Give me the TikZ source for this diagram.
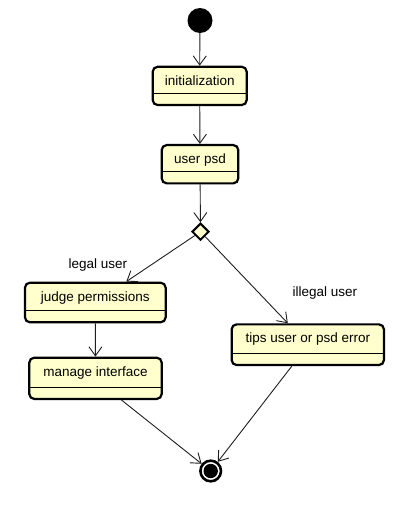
\documentclass[tikz,border=0pt]{standalone}
\usepackage{fontspec}
\setmainfont{Liberation Sans}
\usetikzlibrary{arrows.meta,shapes.geometric}
\definecolor{statefill}{RGB}{255,255,206}
\definecolor{linecol}{RGB}{30,30,30}
\tikzset{
  statebox/.style={rectangle, rounded corners=5pt, draw=black, line width=2.2pt,
    fill=statefill, inner sep=0pt,
    path picture={\draw[line width=0.8pt,black]
      ([yshift=12pt]path picture bounding box.south west) --
      ([yshift=12pt]path picture bounding box.south east);}},
  statetext/.style={anchor=base, inner sep=0pt, font=\fontsize{13.5}{16}\selectfont},
  edgetext/.style={inner sep=0pt, font=\fontsize{13.5}{16}\selectfont},
  startstate/.style={circle, fill=black, inner sep=0pt, minimum size=25pt},
  decision/.style={diamond, draw=black, line width=2pt, fill=statefill,
    inner sep=0pt, minimum width=17pt, minimum height=17pt},
  endstate/.style={circle, draw=black, line width=2.6pt, fill=white, inner sep=0pt,
    minimum size=20.6pt,
    path picture={\fill[black] (path picture bounding box.center) circle[radius=7.2pt];}},
  conn/.style={draw=linecol, line width=0.9pt,
    -{Straight Barb[length=9pt, width=13pt, line width=0.9pt]}},
}
\begin{document}
\begin{tikzpicture}[x=1pt, y=-1pt]
\useasboundingbox (0,0) rectangle (414,512);

\node[startstate] (start) at (200,20.5) {};

\node[statebox, minimum width=94pt, minimum height=38.3pt] (init) at (199.7,85.9) {};
\node[statetext] (initT) at ([yshift=-19.5pt]init.north) {initialization};

\node[statebox, minimum width=76.6pt, minimum height=38.3pt] (psd) at (200,164.2) {};
\node[statetext] (psdT) at ([yshift=-19.5pt]psd.north) {user psd};

\node[decision] (dec) at (200.5,231.7) {};

\node[statebox, minimum width=140.7pt, minimum height=39.6pt] (judge) at (95.3,302.5) {};
\node[statetext] (judgeT) at ([yshift=-19.5pt]judge.north) {judge permissions};

\node[statebox, minimum width=132.4pt, minimum height=41.3pt] (manage) at (95.5,378.3) {};
\node[statetext] (manageT) at ([yshift=-19.5pt]manage.north) {manage interface};

\node[statebox, minimum width=152.3pt, minimum height=40.7pt] (tips) at (307.8,344.7) {};
\node[statetext] (tipsT) at ([yshift=-19.5pt]tips.north) {tips user or psd error};

\node[endstate] (final) at (210.7,471) {};

\node[edgetext] (legal) at (97.8,265) {legal user};
\node[edgetext] (illegal) at (325,292.7) {illegal user};

\draw[conn] (start) -- (init.north);
\draw[conn] (init) -- (psd);
\draw[conn] (psd) -- (dec);
\draw[conn] (dec) -- ([xshift=31pt]judge.north);
\draw[conn] (dec) -- ([xshift=-20pt]tips.north);
\draw[conn] (judge) -- (manage);
\draw[conn] ([xshift=26pt]manage.south) -- (final);
\draw[conn] ([xshift=-16pt]tips.south) -- (final);
\end{tikzpicture}
\end{document}
